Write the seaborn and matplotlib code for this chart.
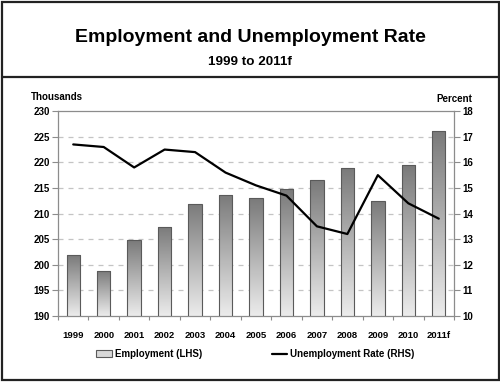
import matplotlib
matplotlib.use("Agg")
import matplotlib.pyplot as plt
from matplotlib.lines import Line2D
from matplotlib.patches import Patch, Rectangle
import numpy as np
import pandas as pd
import seaborn as sns

years = ["1999", "2000", "2001", "2002", "2003", "2004", "2005",
         "2006", "2007", "2008", "2009", "2010", "2011f"]
employment = [201.9, 198.8, 204.8, 207.4, 211.9, 213.7, 213.0,
              214.7, 216.5, 218.8, 212.4, 219.4, 226.1]
unemployment = [16.7, 16.6, 15.8, 16.5, 16.4, 15.6, 15.1,
                14.7, 13.5, 13.2, 15.5, 14.4, 13.8]

df = pd.DataFrame({"year": years, "employment": employment,
                   "unemployment": unemployment})

sns.set_theme(style="white")
plt.rcParams["font.family"] = ["Liberation Sans", "DejaVu Sans"]
plt.rcParams["font.weight"] = "bold"
plt.rcParams["text.color"] = "black"
plt.rcParams["xtick.labelcolor"] = "black"
plt.rcParams["ytick.labelcolor"] = "black"

GREY = "#8c8c8c"
fig = plt.figure(figsize=(5.0, 3.82), dpi=100)
ax = fig.add_axes([0.116, 0.173, 0.792, 0.536])

sns.barplot(data=df, x="year", y="employment", ax=ax, width=0.44,
            color="#d0d0d0", edgecolor="#5a5a5a", linewidth=0.8, zorder=2)

# vertical gradient fill, dark at the top, light at the base
grad = np.linspace(0, 1, 256).reshape(-1, 1)
for bar in ax.patches:
    x0, y0 = bar.get_x(), 190
    w, h = bar.get_width(), bar.get_y() + bar.get_height()
    im = ax.imshow(grad, extent=[x0, x0 + w, y0, h], aspect="auto",
                   cmap=sns.blend_palette(["#ececec", "#7a7a7a"], as_cmap=True),
                   origin="lower", zorder=2.5)
    im.set_clip_path(bar)
    bar.set_facecolor("none")
    bar.set_zorder(3)

ax.set_xlim(-0.5, len(years) - 0.5)
ax.set_ylim(190, 230)
ax.set_yticks(range(190, 231, 5))
ax.set_xticks(np.arange(len(years)))
ax.set_xticklabels(years)
ax.set_xticks(np.arange(len(years) + 1) - 0.5, minor=True)
ax.set_xlabel("")
ax.set_ylabel("")
for y in range(195, 230, 5):
    ax.axhline(y, color="#c4c4c4", lw=0.9, ls=(0, (4, 4)), zorder=1)

for s in ax.spines.values():
    s.set_color(GREY)
    s.set_linewidth(0.9)
ax.tick_params(axis="y", which="major", left=True, length=4, width=0.8,
               color=GREY, labelsize=7, pad=2, labelcolor="black")
ax.tick_params(axis="x", which="major", bottom=False, labelsize=6.8, pad=5,
               labelcolor="black")
ax.tick_params(axis="x", which="minor", bottom=True, length=3, width=0.8,
               color=GREY)
for t in ax.get_xticklabels() + ax.get_yticklabels():
    t.set_fontweight("bold")

ax2 = ax.twinx()
sns.lineplot(x=np.arange(len(years)), y=unemployment, ax=ax2,
             color="black", lw=1.6, zorder=4)
ax2.set_ylim(10, 18)
ax2.set_yticks(range(10, 19))
ax2.tick_params(axis="y", right=True, length=4, width=0.8, color=GREY,
                labelsize=7, pad=2, labelcolor="black")
for t in ax2.get_yticklabels():
    t.set_fontweight("bold")
for s in ax2.spines.values():
    s.set_visible(False)

fig.text(0.062, 0.746, "Thousands", fontsize=7, fontweight="bold",
         ha="left", va="center", color="black")
fig.text(0.944, 0.741, "Percent", fontsize=7, fontweight="bold",
         ha="right", va="center", color="black")

fig.text(0.5, 0.903, "Employment and Unemployment Rate", fontsize=14,
         fontweight="bold", ha="center", va="center", color="black")
fig.text(0.5, 0.838, "1999 to 2011f", fontsize=9.7, fontweight="bold",
         ha="center", va="center", color="black")

handles = [Patch(facecolor="#d8d8d8", edgecolor="#5a5a5a", lw=0.8),
           Line2D([], [], color="black", lw=1.6)]
fig.legend(handles, ["Employment (LHS)", "Unemployment Rate (RHS)"],
           loc="center", bbox_to_anchor=(0.511, 0.073), ncol=2, frameon=False,
           prop={"size": 7, "weight": "bold"}, handlelength=1.6,
           handletextpad=0.3, columnspacing=7.2, labelcolor="black")

# outer frame and the divider under the title block
fig.add_artist(Rectangle((0.003, 0.004), 0.994, 0.992, transform=fig.transFigure,
                         fill=False, ec="#222222", lw=1.6))
fig.add_artist(Line2D([0.003, 0.997], [0.799, 0.799], transform=fig.transFigure,
                      color="#222222", lw=1.6))

fig.savefig("out.png", dpi=100)
